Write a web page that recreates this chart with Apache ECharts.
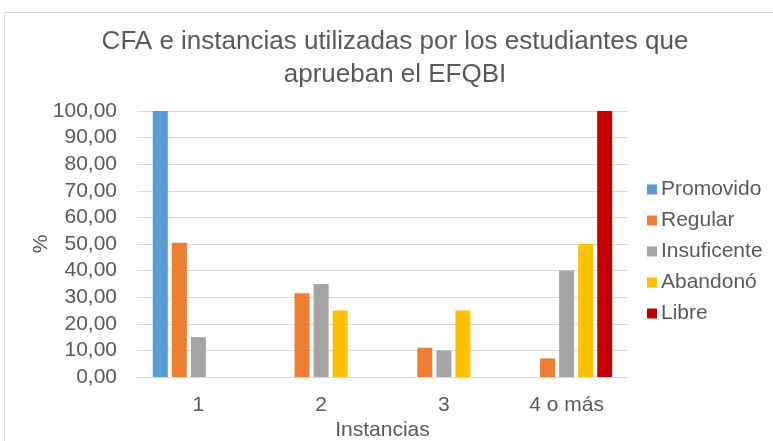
<!DOCTYPE html>
<html><head><meta charset="utf-8">
<script src="https://cdn.jsdelivr.net/npm/echarts@6/dist/echarts.min.js"></script>
<style>html,body{margin:0;padding:0;background:#fff}#c{width:773px;height:441px}</style>
</head><body><div id="c"></div>
<script>
const categories = ['1', '2', '3', '4 o más'];
const promovido = [100, 0, 0, 0];
const regular = [50.5, 31.5, 11, 7];
const insuficente = [15, 35, 10, 40];
const abandono = [0, 25, 25, 50];
const libre = [0, 0, 0, 100];
const seriesNames = ['Promovido', 'Regular', 'Insuficente', 'Abandonó', 'Libre'];
const seriesData = [promovido, regular, insuficente, abandono, libre];
const colors = ['#5B9BD5', '#ED7D31', '#A5A5A5', '#FFC000', '#C00000'];

const font = 'Liberation Sans, Arial, sans-serif';
const txt = '#595959';
const chart = echarts.init(document.getElementById('c'), null, {renderer: 'canvas'});
chart.setOption({
  animation: false,
  color: colors,
  textStyle: {fontFamily: font},
  title: {
    text: 'CFA e instancias utilizadas por los estudiantes que\naprueban el EFQBI',
    left: 390, top: 20, textAlign: 'center',
    textStyle: {fontFamily: font, fontSize: 26, fontWeight: 'normal', color: txt, lineHeight: 33}
  },
  graphic: [{type: 'rect', shape: {x: 4.5, y: 12.5, width: 780, height: 440}, style: {fill: 'none', stroke: '#d9d9d9', lineWidth: 1}, silent: true}],
  legend: {
    orient: 'vertical', left: 642, top: 174,
    itemWidth: 10, itemHeight: 10, itemGap: 10, icon: 'rect',
    textStyle: {fontFamily: font, fontSize: 21, color: txt, padding: [0,0,0,-1]},
    data: seriesNames
  },
  grid: {left: 137, right: 145, top: 111, bottom: 64, containLabel: false, outerBoundsMode: 'none'},
  xAxis: {
    type: 'category', data: categories,
    name: 'Instancias', nameLocation: 'middle', nameGap: 43, nameMoveOverlap: false,
    nameTextStyle: {fontFamily: font, fontSize: 21, color: txt},
    axisLine: {lineStyle: {color: '#d9d9d9', width: 1}},
    axisTick: {show: false},
    axisLabel: {fontFamily: font, fontSize: 21, color: txt, margin: 18}
  },
  yAxis: {
    type: 'value', min: 0, max: 100, interval: 10,
    name: '%', nameLocation: 'middle', nameGap: 85, nameRotate: 90, nameMoveOverlap: false,
    nameTextStyle: {fontFamily: font, fontSize: 21, color: txt},
    axisLine: {show: false}, axisTick: {show: false},
    splitLine: {lineStyle: {color: '#d9d9d9', width: 1}},
    axisLabel: {fontFamily: font, fontSize: 21, color: txt, margin: 20,
      formatter: v => v.toFixed(2).replace('.', ',')}
  },
  series: seriesNames.map((n, i) => ({
    name: n, type: 'bar', data: seriesData[i], barWidth: 15, barGap: '27%'
  }))
});
</script></body></html>
